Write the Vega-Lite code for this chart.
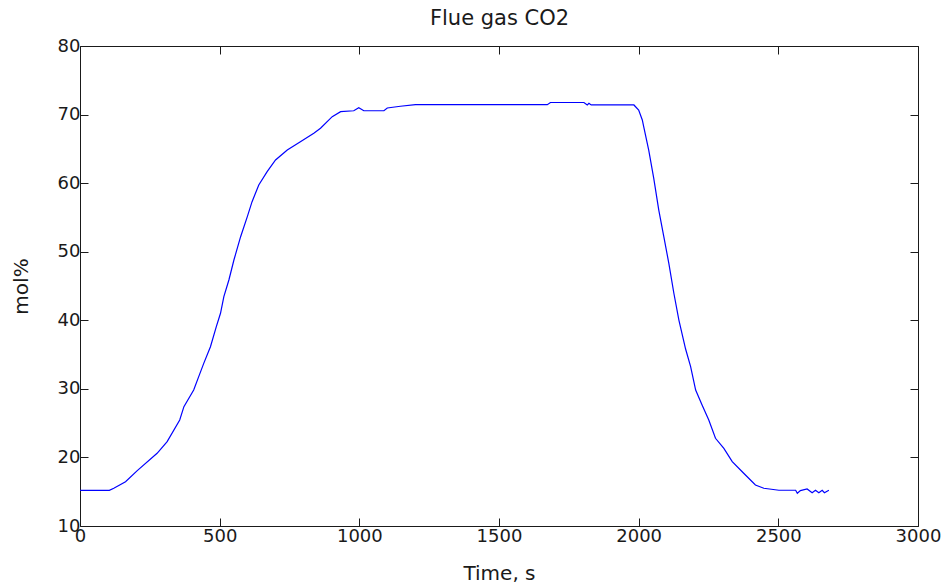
{
  "$schema": "https://vega.github.io/schema/vega-lite/v6.json",
  "autosize": {"type": "none"},
  "width": 838,
  "height": 480,
  "padding": {"left": 80, "top": 46, "right": 26, "bottom": 62},
  "background": "white",
  "view": {"stroke": null},
  "config": {
    "axis": {
      "labelFont": "DejaVu Sans",
      "labelFontSize": 18,
      "labelColor": "#1a1a1a",
      "titleFont": "DejaVu Sans",
      "titleFontSize": 20,
      "titleFontWeight": "normal",
      "titleColor": "#1a1a1a",
      "domainColor": "#1a1a1a",
      "domainWidth": 1,
      "tickColor": "#1a1a1a",
      "tickWidth": 1,
      "tickSize": -8,
      "grid": false,
      "labelFlush": false,
      "labelOverlap": false,
      "format": "d"
    }
  },
  "data": {
    "values": [
      {"t": 0, "co2": 15.2},
      {"t": 105, "co2": 15.2},
      {"t": 121, "co2": 15.5},
      {"t": 163, "co2": 16.46},
      {"t": 205, "co2": 18.07},
      {"t": 276, "co2": 20.6},
      {"t": 312, "co2": 22.3},
      {"t": 357, "co2": 25.46},
      {"t": 372, "co2": 27.4},
      {"t": 407, "co2": 29.83},
      {"t": 425, "co2": 31.78},
      {"t": 443, "co2": 33.72},
      {"t": 467, "co2": 36.15},
      {"t": 488, "co2": 39.07},
      {"t": 503, "co2": 41.02},
      {"t": 515, "co2": 43.44},
      {"t": 533, "co2": 45.88},
      {"t": 551, "co2": 48.79},
      {"t": 575, "co2": 52.19},
      {"t": 599, "co2": 55.11},
      {"t": 616, "co2": 57.3},
      {"t": 640, "co2": 59.73},
      {"t": 670, "co2": 61.67},
      {"t": 700, "co2": 63.38},
      {"t": 742, "co2": 64.83},
      {"t": 789, "co2": 66.04},
      {"t": 837, "co2": 67.27},
      {"t": 861, "co2": 68.0},
      {"t": 903, "co2": 69.69},
      {"t": 933, "co2": 70.42},
      {"t": 980, "co2": 70.56},
      {"t": 998, "co2": 71.0},
      {"t": 1016, "co2": 70.56},
      {"t": 1088, "co2": 70.56},
      {"t": 1100, "co2": 70.96},
      {"t": 1147, "co2": 71.21},
      {"t": 1201, "co2": 71.44},
      {"t": 1673, "co2": 71.44},
      {"t": 1684, "co2": 71.76},
      {"t": 1804, "co2": 71.76},
      {"t": 1816, "co2": 71.4},
      {"t": 1822, "co2": 71.64},
      {"t": 1830, "co2": 71.4},
      {"t": 1983, "co2": 71.4},
      {"t": 2000, "co2": 70.67},
      {"t": 2013, "co2": 69.21},
      {"t": 2018, "co2": 68.23},
      {"t": 2036, "co2": 64.83},
      {"t": 2054, "co2": 60.7},
      {"t": 2072, "co2": 56.08},
      {"t": 2090, "co2": 52.19},
      {"t": 2108, "co2": 48.31},
      {"t": 2126, "co2": 43.94},
      {"t": 2144, "co2": 40.04},
      {"t": 2168, "co2": 35.81},
      {"t": 2186, "co2": 33.23},
      {"t": 2204, "co2": 29.83},
      {"t": 2227, "co2": 27.65},
      {"t": 2251, "co2": 25.46},
      {"t": 2275, "co2": 22.79},
      {"t": 2305, "co2": 21.33},
      {"t": 2335, "co2": 19.38},
      {"t": 2376, "co2": 17.69},
      {"t": 2418, "co2": 15.98},
      {"t": 2448, "co2": 15.5},
      {"t": 2502, "co2": 15.21},
      {"t": 2562, "co2": 15.21},
      {"t": 2568, "co2": 14.77},
      {"t": 2579, "co2": 15.17},
      {"t": 2603, "co2": 15.4},
      {"t": 2621, "co2": 14.86},
      {"t": 2633, "co2": 15.21},
      {"t": 2645, "co2": 14.86},
      {"t": 2657, "co2": 15.21},
      {"t": 2665, "co2": 14.86},
      {"t": 2681, "co2": 15.21}
    ]
  },
  "layer": [
    {
      "mark": {"type": "line", "color": "#0000ff", "strokeWidth": 1.2, "interpolate": "linear"},
      "encoding": {
        "x": {
          "field": "t", "type": "quantitative",
          "scale": {"domain": [0, 3000], "nice": false, "zero": false},
          "axis": {"title": "Time, s", "values": [0, 500, 1000, 1500, 2000, 2500, 3000], "labelPadding": 9, "titlePadding": 18, "orient": "bottom"}
        },
        "y": {
          "field": "co2", "type": "quantitative",
          "scale": {"domain": [10, 80], "nice": false, "zero": false},
          "axis": {"title": "mol%", "values": [10, 20, 30, 40, 50, 60, 70, 80], "labelPadding": 8, "titlePadding": 26, "orient": "left"}
        }
      }
    },
    {
      "mark": {"type": "line", "strokeOpacity": 0},
      "encoding": {
        "x": {
          "field": "t", "type": "quantitative",
          "scale": {"domain": [0, 3000], "nice": false, "zero": false},
          "axis": {"title": "Flue gas CO2", "titleFontSize": 21, "titlePadding": 17, "titleBaseline": "bottom", "labels": false, "values": [0, 500, 1000, 1500, 2000, 2500, 3000], "orient": "top"}
        },
        "y": {
          "field": "co2", "type": "quantitative",
          "scale": {"domain": [10, 80], "nice": false, "zero": false},
          "axis": {"title": null, "labels": false, "values": [10, 20, 30, 40, 50, 60, 70, 80], "orient": "right"}
        }
      }
    }
  ],
  "resolve": {"axis": {"x": "independent", "y": "independent"}}
}
